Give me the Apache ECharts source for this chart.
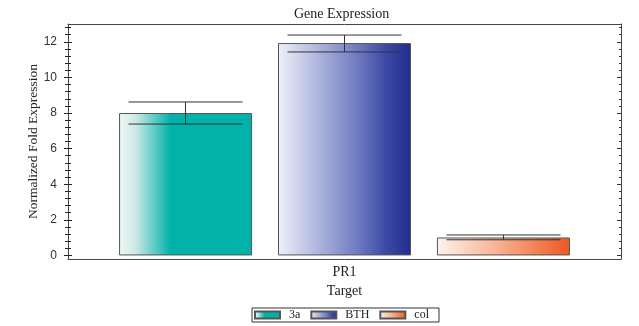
<!DOCTYPE html>
<html>
<head>
<meta charset="utf-8">
<script src="https://cdn.jsdelivr.net/npm/echarts@6/dist/echarts.min.js"></script>
<style>html,body{margin:0;padding:0;background:#fff}#c{width:639px;height:326px}</style>
</head>
<body>
<div id="c"></div>
<script>
// ---- data ----
const categories = ['PR1'];
const seriesNames = ['3a', 'BTH', 'col'];
const values = [8.0, 11.93, 1.01];
const errLow = [7.38, 11.43, 0.88];
const errHigh = [8.62, 12.38, 1.15];
const yTickLabels = [0, 2, 4, 6, 8, 10, 12];

// ---- style ----
const BAR_W = 133, BAR_GAP = 26, CAP_HALF = 57;
const SERIF = '"Liberation Serif", "Times New Roman", serif';
const SANS = '"Liberation Sans", Arial, sans-serif';
const AX = '#444';
const grads = [
  [[0, '#f1f7f7'], [0.12, '#cfe9e7'], [0.39, '#00b2a8'], [1, '#00b2a8']],
  [[0, '#eef0f8'], [0.3, '#aeb6dd'], [0.6, '#6e7ac0'], [0.82, '#3a48a4'], [1, '#222c8e']],
  [[0, '#fdf3ee'], [0.45, '#f8b392'], [1, '#ee5722']]
];
function grad(stops) {
  return new echarts.graphic.LinearGradient(0, 0, 1, 0, stops.map(s => ({ offset: s[0], color: s[1] })));
}
const minorTicks = [];
for (let k = 0; k <= 32; k++) {
  const v = Math.round(k * 4) / 10;
  if (yTickLabels.indexOf(v) < 0) minorTicks.push(v);
}
const YMIN = -0.2, YMAX = 13;
function yAx(extra) {
  return Object.assign({
    type: 'value', min: YMIN, max: YMAX, position: 'left',
    axisLine: { show: false }, axisLabel: { show: false },
    axisTick: { show: false }, splitLine: { show: false }
  }, extra);
}

const chart = echarts.init(document.getElementById('c'), null, { renderer: 'canvas' });
const series = seriesNames.map((n, i) => ({
  name: n, type: 'bar', xAxisIndex: 0, yAxisIndex: 0,
  barWidth: BAR_W, barGap: (BAR_GAP / BAR_W * 100).toFixed(1) + '%',
  data: [values[i]],
  itemStyle: { color: grad(grads[i]), borderColor: '#555', borderWidth: 1 }
}));
series.push({
  name: 'err', type: 'custom', xAxisIndex: 0, yAxisIndex: 0, z: 5,
  data: seriesNames.map((n, i) => [0, errLow[i], errHigh[i], i]),
  encode: { x: 0, y: [1, 2] },
  renderItem: function (params, api) {
    const c = api.value(0), i = api.value(3);
    const x = api.coord([c, 0])[0] + (i - 1) * (BAR_W + BAR_GAP);
    const yl = api.coord([c, api.value(1)])[1];
    const yh = api.coord([c, api.value(2)])[1];
    const st = { stroke: '#333', lineWidth: 1 };
    return {
      type: 'group',
      children: [
        { type: 'line', shape: { x1: x, y1: yh, x2: x, y2: yl }, style: st },
        { type: 'line', shape: { x1: x - CAP_HALF, y1: yh, x2: x + CAP_HALF, y2: yh }, style: st },
        { type: 'line', shape: { x1: x - CAP_HALF, y1: yl, x2: x + CAP_HALF, y2: yl }, style: st }
      ]
    };
  }
});

chart.setOption({
  animation: false,
  backgroundColor: '#fff',
  title: {
    text: 'Gene Expression', left: 289, top: 2,
    textStyle: { fontFamily: SERIF, fontSize: 14, fontWeight: 'normal', color: '#222' }
  },
  legend: {
    data: seriesNames, left: 252, top: 308, orient: 'horizontal',
    icon: 'rect',
    itemWidth: 25, itemHeight: 7, itemGap: 10,
    borderColor: '#333', borderWidth: 1, padding: [1, 10, 1, 2],
    textStyle: { fontFamily: SERIF, fontSize: 12, color: '#222', padding: [0, 0, 0, 4] }
  },
  grid: { left: 68, right: 18, top: 24, bottom: 67 },
  xAxis: [
    {
      type: 'category', data: categories, position: 'bottom',
      axisLine: { onZero: false, lineStyle: { color: AX, width: 1 } },
      axisTick: { alignWithLabel: true, inside: true, length: 4, lineStyle: { color: AX } },
      axisLabel: { fontFamily: SERIF, fontSize: 14, color: '#222', margin: 6 },
      name: 'Target', nameLocation: 'middle', nameGap: 24,
      nameTextStyle: { fontFamily: SERIF, fontSize: 14, color: '#222' }
    },
    {
      type: 'category', data: categories, position: 'top',
      axisLine: { onZero: false, lineStyle: { color: AX, width: 1 } },
      axisTick: { alignWithLabel: true, inside: true, length: 5, lineStyle: { color: AX } },
      axisLabel: { show: false }
    }
  ],
  yAxis: [
    yAx({
      axisLine: { show: true, onZero: false, lineStyle: { color: AX, width: 1 } },
      axisLabel: { show: true, customValues: yTickLabels, fontFamily: SANS, fontSize: 12, color: '#333', margin: 11 },
      name: 'Normalized Fold Expression', nameLocation: 'middle', nameGap: 28,
      nameMoveOverlap: false,
      nameTextStyle: { fontFamily: SERIF, fontSize: 13.5, color: '#222' }
    }),
    yAx({ offset: 4, axisTick: { show: true, inside: true, length: 8, customValues: yTickLabels, lineStyle: { color: '#222' } } }),
    yAx({ offset: 3, axisTick: { show: true, inside: true, length: 6, customValues: minorTicks, lineStyle: { color: '#222' } } }),
    yAx({
      position: 'right',
      axisLine: { show: true, onZero: false, lineStyle: { color: AX, width: 1 } },
      axisTick: { show: true, inside: true, length: 4, customValues: yTickLabels, lineStyle: { color: '#333' } }
    }),
    yAx({
      position: 'right',
      axisTick: { show: true, inside: true, length: 2, customValues: minorTicks, lineStyle: { color: '#333' } }
    })
  ],
  series: series
});
</script>
</body>
</html>
